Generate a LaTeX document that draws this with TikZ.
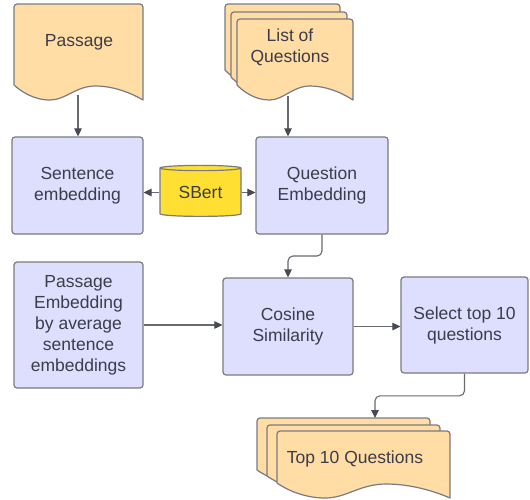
\documentclass[tikz,border=0pt]{standalone}
\usepackage{fontspec}
\setmainfont{Liberation Sans}
\usetikzlibrary{arrows.meta,shapes.geometric,calc}

\definecolor{sheetfill}{RGB}{255,221,165}
\definecolor{boxfill}{RGB}{222,222,255}
\definecolor{edgegray}{RGB}{122,122,130}
\definecolor{linkgray}{RGB}{105,105,112}
\definecolor{headgray}{RGB}{70,74,84}
\definecolor{inkgray}{RGB}{60,60,74}
\definecolor{dbyellow}{RGB}{255,224,50}

\tikzset{
  docsheet/.style={draw=edgegray, line width=1.2pt, fill=sheetfill, line join=round},
  doclabel/.style={text=inkgray, font=\fontsize{17.5}{21}\selectfont, align=center, inner sep=0pt},
  stepbox/.style={draw=edgegray, line width=1.2pt, fill=boxfill, rounded corners=3pt,
    text=inkgray, font=\fontsize{17.5}{21}\selectfont, align=center, inner sep=0pt},
  store/.style={cylinder, shape border rotate=90, aspect=0.12, draw=edgegray, line width=1.2pt,
    fill=dbyellow, text=inkgray, font=\fontsize{17.5}{21}\selectfont, inner sep=0pt},
  link/.style={draw=linkgray, line width=1.1pt,
    -{Triangle[length=8pt,width=7.5pt,fill=headgray,color=headgray]}},
}

% document sheet with a wavy lower edge: left, top, right, bottom (right corner)
\newcommand\wavysheet[4]{%
  \pgfmathsetmacro\dL{#1}\pgfmathsetmacro\dT{#2}%
  \pgfmathsetmacro\dR{#3}\pgfmathsetmacro\dB{#4}%
  \pgfmathsetmacro\dW{\dR-\dL}%
  \draw[docsheet] (\dL,\dB-15) [rounded corners=3pt] -- (\dL,\dT) -- (\dR,\dT) [sharp corners] -- (\dR,\dB)
    .. controls (\dR-0.12*\dW,\dB-9) and (\dL+0.75*\dW,\dB-14) .. (\dL+0.63*\dW,\dB-14)
    .. controls (\dL+0.48*\dW,\dB-14) and (\dL+0.40*\dW,\dB) .. (\dL+0.28*\dW,\dB)
    .. controls (\dL+0.15*\dW,\dB) and (\dL+0.05*\dW,\dB-9) .. (\dL,\dB-15) -- cycle;
}

\begin{document}
\begin{tikzpicture}[x=1pt,y=-1pt]
  \fill[white] (0,0) rectangle (530,499);
  \useasboundingbox (0,0) rectangle (530,499);

  % input documents
  \wavysheet{14}{4}{143}{100}
  \node[doclabel] (passage) at (79,42) {Passage};
  \coordinate (passage-foot) at (78,95);

  \wavysheet{225}{4}{340}{85}
  \wavysheet{231}{12}{347}{92}
  \wavysheet{237}{19}{353}{100}
  \node[doclabel] (questions) at (290,47) {List of\\Questions};
  \coordinate (questions-foot) at (288,96);

  % processing steps
  \node[stepbox, minimum width=131pt, minimum height=97pt] (sent) at (77.5,185.5) {Sentence\\embedding};
  \node[stepbox, minimum width=132pt, minimum height=97pt] (qemb) at (322,185.5) {Question\\Embedding};
  \node[store, minimum width=81pt, minimum height=51pt] (sbert) at (200.5,192.5) {SBert};

  \node[stepbox, minimum width=129pt, minimum height=126pt] (pemb) at (78.5,325)
    {Passage\\Embedding\\by average\\sentence\\embeddings};
  \node[stepbox, minimum width=130pt, minimum height=97pt] (cos) at (288,326.5) {Cosine\\Similarity};
  \node[stepbox, minimum width=127pt, minimum height=96pt] (select) at (464.5,325) {Select top 10\\questions};

  % output documents
  \wavysheet{257}{418}{430}{485}
  \wavysheet{267}{425}{440}{491}
  \wavysheet{277}{431}{450}{498}
  \node[doclabel] (top10) at (355,459) {Top 10 Questions};
  \coordinate (top10-head) at (375,418);

  % connectors
  \draw[link] (passage-foot) -- (passage-foot |- sent.north);
  \draw[link] (questions-foot) -- (questions-foot |- qemb.north);
  \draw[link] (sbert.west |- sbert.center) -- (sent.east |- sbert.center);
  \draw[link] (sbert.east |- sbert.center) -- (qemb.west |- sbert.center);
  \draw[link, rounded corners=5pt] (qemb.south) |- ($(qemb.south)!0.5!(cos.north)$) -| (cos.north);
  \draw[link] (pemb.east) -- (cos.west |- pemb.east);
  \draw[link] (cos.east) -- (select.west |- cos.east);
  \draw[link, rounded corners=5pt] (select.south) |- ($(select.south)!0.5!(top10-head)$) -| (top10-head);
\end{tikzpicture}
\end{document}
